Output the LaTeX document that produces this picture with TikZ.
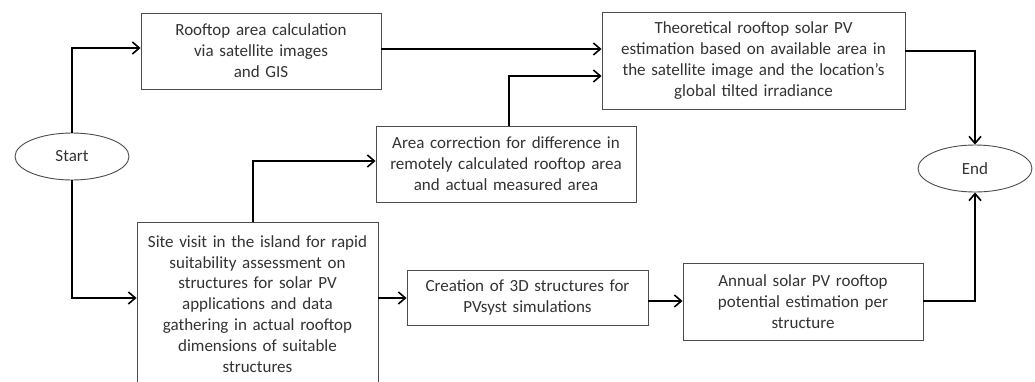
\documentclass[tikz,border=0pt]{standalone}
\usepackage{fontspec}
\setmainfont{Carlito}
\usetikzlibrary{arrows.meta,calc,shapes.geometric}
\begin{document}
\begin{tikzpicture}[x=1pt,y=-1pt,
  box/.style={draw=black!70,line width=0.9pt,rectangle,inner sep=0pt,align=center,
    font=\fontsize{17}{20.9}\selectfont,text=black!80},
  oval/.style={draw=black!70,line width=0.9pt,ellipse,inner sep=0pt,
    font=\fontsize{17}{20}\selectfont,text=black!80},
  conn/.style={line width=1.8pt,-{Straight Barb[length=7pt,width=12pt,line width=1.6pt]}}]
\useasboundingbox (0,0) rectangle (1035,381);
\clip (0,0) rectangle (1035,381);
\fill[white] (0,0) rectangle (1035,381);

\node[box,minimum width=240,minimum height=76,text width=234] (b1) at (261,51)
  {Rooftop area calculation\\via satellite images\\and GIS};
\node[box,minimum width=260,minimum height=76,text width=254] (area) at (506,164)
  {Area correction for difference in\\remotely calculated rooftop area\\and actual measured area};
\node[box,minimum width=303,minimum height=97,text width=297] (theo) at (753.5,60.5)
  {Theoretical rooftop solar PV\\estimation based on available area in\\the satellite image and the location’s\\global tilted irradiance};
\node[box,minimum width=241,minimum height=164,text width=235] (site) at (257.5,304)
  {Site visit in the island for rapid\\suitability assessment on\\structures for solar PV\\applications and data\\gathering in actual rooftop\\dimensions of suitable\\structures};
\node[box,minimum width=241,minimum height=55,text width=235] (td) at (527.5,297.5)
  {Creation of 3D structures for\\PVsyst simulations};
\node[box,minimum width=240,minimum height=77,text width=234] (ann) at (803,301.5)
  {Annual solar PV rooftop\\potential estimation per\\structure};
\node[oval,minimum width=114,minimum height=47] (start) at (72,156.5) {Start};
\node[oval,minimum width=114,minimum height=47] (end) at (975,168.5) {End};

\draw[conn] (start.north) |- ($(b1.west)+(0,-3)$);
\draw[conn] (start.south) |- ($(site.west)+(0,-6)$);
\draw[conn] ($(site.north)+(-4.5,0)$) |- ($(area.west)+(0,-3)$);
\draw[conn] ($(area.north)+(3,0)$) |- ($(theo.west)+(0,15.5)$);
\draw[conn] ($(b1.east)+(0,-2)$) -- ($(theo.west)+(0,-11.5)$);
\draw[conn] ($(theo.east)+(0,-9.5)$) -| (end.north);
\draw[conn] ($(site.east)+(0,-6)$) -- ($(td.west)+(0,0.5)$);
\draw[conn] ($(td.east)+(0,3.5)$) -- ($(ann.west)+(0,-0.5)$);
\draw[conn] ($(ann.east)+(0,-0.5)$) -| (end.south);
\end{tikzpicture}
\end{document}
